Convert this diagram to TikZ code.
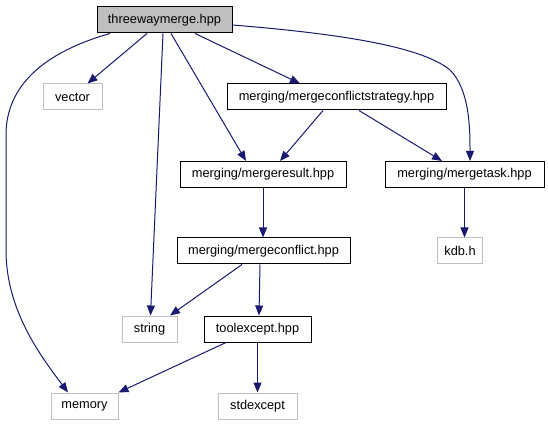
\documentclass[tikz,border=0pt]{standalone}
\usepackage{fontspec}
\setmainfont{Liberation Sans}
\usetikzlibrary{arrows.meta}
\definecolor{edgeblue}{HTML}{191970}
\definecolor{boxgray}{HTML}{BFBFBF}

\begin{document}
\begin{tikzpicture}[x=1pt, y=-1pt, >={Triangle[length=10pt,width=8pt]},
    file/.style={draw=black, line width=1pt, inner sep=0pt, minimum height=26pt, font=\fontsize{12.8}{15}\selectfont},
    ext/.style={file, draw=boxgray},
    dep/.style={->, edgeblue, line width=1pt}]
    \useasboundingbox (0,0) rectangle (548,427);

    % Files
    \node[file, fill=boxgray, minimum width=135pt] (main) at (164.5,20) {threewaymerge.hpp};
    \node[ext, minimum width=59pt] (vector) at (72.5,97) {vector};
    \node[file, minimum width=219pt] (strategy) at (336.5,97) {merging/mergeconflictstrategy.hpp};
    \node[file, minimum width=166pt] (result) at (263,174.5) {merging/mergeresult.hpp};
    \node[file, minimum width=159pt] (task) at (464.5,174.5) {merging/mergetask.hpp};
    \node[file, minimum width=173pt] (conflict) at (263.5,251) {merging/mergeconflict.hpp};
    \node[ext, minimum width=45pt] (kdb) at (460,251) {kdb.h};
    \node[ext, minimum width=55pt] (string) at (149.5,329) {string};
    \node[file, minimum width=107pt] (toolexcept) at (257.5,329) {toolexcept.hpp};
    \node[ext, minimum width=67pt] (memory) at (84.5,406) {memory};
    \node[ext, minimum width=79pt] (stdexcept) at (257.5,406) {stdexcept};

    % Includes of threewaymerge.hpp
    \draw[dep] ([xshift=-17.5pt]main.south) -- ([xshift=15pt]vector.north);
    \draw[dep] ([xshift=-1.5pt]main.south) -- ([xshift=1pt]string.north);
    \draw[dep] ([xshift=6.5pt]main.south) -- ([xshift=-17pt]result.north);
    \draw[dep] ([xshift=30.5pt]main.south) -- ([xshift=-36.5pt]strategy.north);
    \draw[dep] ([xshift=-54.5pt]main.south) .. controls (45,52) and (6,85) .. (6,135)
        -- (6,250) .. controls (6,310) and (40,355) .. ([xshift=-16.5pt]memory.north);
    \coordinate (bend) at (450,70);
    \draw[dep] ([yshift=-5pt]main.east) .. controls (330,33) and (420,45) .. (bend)
        .. controls (470,90) and (470,130) .. ([xshift=5.5pt]task.north);

    % Includes of the merging headers
    \draw[dep] ([xshift=-13.5pt]strategy.south) -- ([xshift=17pt]result.north);
    \draw[dep] ([xshift=22.5pt]strategy.south) -- ([xshift=-22.5pt]task.north);
    \draw[dep] (result.south) -- (result.south |- conflict.north);
    \draw[dep] (task.south) -- (task.south |- kdb.north);
    \draw[dep] ([xshift=-21.5pt]conflict.south) -- ([xshift=20.5pt]string.north);
    \draw[dep] ([xshift=-3.5pt]conflict.south) -- ([xshift=1.5pt]toolexcept.north);

    % Includes of toolexcept.hpp
    \draw[dep] ([xshift=-31.5pt]toolexcept.south) -- (memory.north east);
    \draw[dep] (toolexcept.south) -- (stdexcept.north);
\end{tikzpicture}
\end{document}
